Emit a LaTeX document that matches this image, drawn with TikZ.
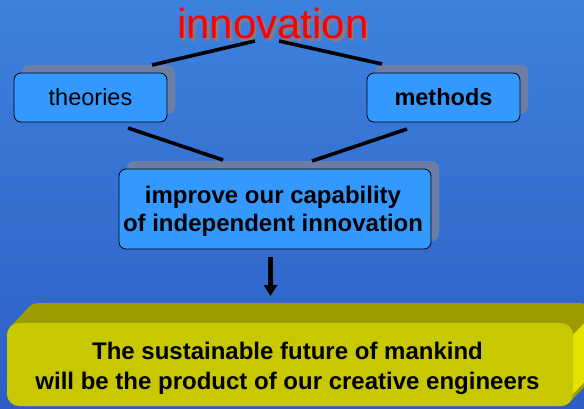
\documentclass[tikz,border=0pt]{standalone}
\usepackage{fontspec}
\setmainfont{Liberation Sans}
\usetikzlibrary{arrows.meta,calc}
\definecolor{bgtop}{RGB}{60,130,222}
\definecolor{bgbot}{RGB}{46,94,196}
\definecolor{boxblue}{RGB}{51,153,255}
\definecolor{shadowc}{RGB}{108,126,166}
\definecolor{yfront}{RGB}{200,200,0}
\definecolor{ytop}{RGB}{156,156,0}
\definecolor{yside}{RGB}{228,228,0}
\definecolor{innored}{RGB}{255,0,0}
\definecolor{innoshadow}{RGB}{140,122,128}
\tikzset{
  bluebox/.style={draw=black, line width=0.8pt, fill=boxblue, rounded corners=7pt, inner sep=0pt},
  boxshadow/.style={fill=shadowc, rounded corners=7pt, inner sep=0pt},
  conn/.style={line width=3.6pt, black},
  downarrow/.style={line width=4.5pt, -{Triangle[width=13pt,length=11pt]}},
  boxtext/.style={inner sep=0pt, align=center, text=black}
}
\begin{document}
\begin{tikzpicture}[x=1pt,y=1pt]
\useasboundingbox (0,0) rectangle (584,408);
\clip (0,0) rectangle (584,408);
% background
\shade[top color=bgtop, bottom color=bgbot] (0,0) rectangle (584,408);

% innovation title
\node[inner sep=0pt, anchor=base, text=innoshadow, font=\fontsize{42}{48}\selectfont] (innoshd) at (275.5,366.5) {innovation};
\node[inner sep=0pt, anchor=base, text=innored, font=\fontsize{42}{48}\selectfont] (innov) at (273,369) {innovation};

% box shadows
\node[boxshadow, minimum width=153pt, minimum height=49pt] (theoshd) at (98.5,318.5) {};
\node[boxshadow, minimum width=153pt, minimum height=49pt] (methshd) at (451.5,318.5) {};
\node[boxshadow, minimum width=312pt, minimum height=80pt] (midshd) at (283,207) {};

% boxes
\node[bluebox, minimum width=153pt, minimum height=49pt, font=\fontsize{23.5}{28}\selectfont] (theo) at (90.5,310.5) {theories};
\node[bluebox, minimum width=153pt, minimum height=49pt, font=\fontsize{23.5}{28}\selectfont\bfseries] (meth) at (443.5,310.5) {methods};
\node[bluebox, minimum width=312pt, minimum height=80pt] (mid) at (275,199) {};
\node[boxtext, font=\fontsize{24}{28}\selectfont\bfseries] (midtxt) at (273,196.3) {improve our capability\\of independent innovation};

% connector end points
\coordinate (iL) at (255,367);
\coordinate (iR) at (279,367);
\coordinate (tTop) at (152,343);
\coordinate (mTop) at (382,344);
\coordinate (tBot) at (128,280);
\coordinate (mBot) at (407,279);
\coordinate (midL) at (223,248);
\coordinate (midR) at (312,247);
\coordinate (aS) at (270.5,151);
\coordinate (aE) at (270.5,112);

\draw[conn] (iL) -- (tTop);
\draw[conn] (iR) -- (mTop);
\draw[conn] (tBot) -- (midL);
\draw[conn] (mBot) -- (midR);
\draw[downarrow] (aS) -- (aE);

% yellow 3D box: extrusion
\foreach \i in {0,...,19} {
  \fill[ytop, rounded corners=12pt] ($(7,2)+(\i,{\i*20/19})$) rectangle ($(573,85)+(\i,{\i*20/19})$);
}
\fill[yside] (573,73) -- (592,93) -- (592,34) -- (573,14) -- cycle;
\node[fill=yfront, rounded corners=12pt, minimum width=566pt, minimum height=83pt, inner sep=0pt] (ybox) at (290,43.5) {};
\node[boxtext, font=\fontsize{24}{30}\selectfont\bfseries] (ytxt) at (287.5,39.5) {The sustainable future of mankind\\will be the product of our creative engineers};
\end{tikzpicture}
\end{document}
